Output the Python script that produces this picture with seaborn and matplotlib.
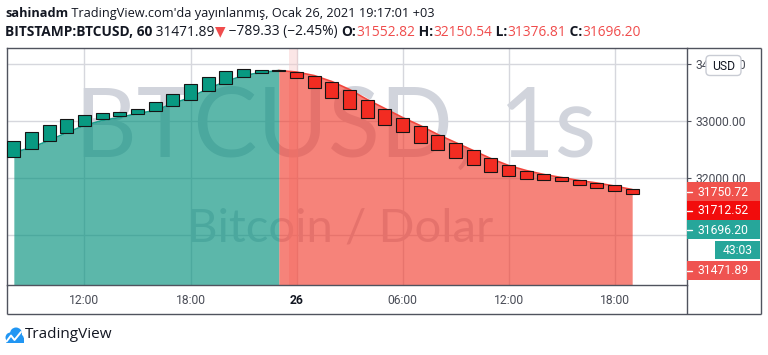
import matplotlib
matplotlib.use("Agg")
import matplotlib.pyplot as plt
import seaborn as sns
import pandas as pd
import numpy as np
from matplotlib.patches import Rectangle, FancyBboxPatch, Circle

# ---------------- data ----------------
hours = list(range(8, 44))  # 08:00 on the 25th .. 19:00 on the 26th (hourly)
opens = [32356, 32504, 32649, 32784, 32912, 33018, 33075, 33123, 33163, 33246,
         33363, 33514, 33644, 33772, 33833, 33872,
         33847, 33789, 33684, 33538, 33363, 33205, 33047, 32912, 32754, 32609,
         32474, 32339, 32211, 32111, 32053, 32005, 31948, 31907, 31860, 31802]
closes = [32649, 32795, 32925, 33030, 33105, 33135, 33146, 33198, 33321, 33468,
          33644, 33772, 33865, 33907, 33895, 33884,
          33742, 33574, 33398, 33205, 33047, 32930, 32795, 32614, 32486, 32346,
          32211, 32093, 32023, 31977, 31960, 31935, 31872, 31820, 31760, 31716]
area_vals = [32439, 32526, 32649, 32789, 32912, 33000, 33053, 33123, 33175, 33298,
             33404, 33561, 33684, 33789, 33842, 33877,
             33851, 33789, 33684, 33544, 33368, 33211, 33053, 32912, 32754, 32614,
             32474, 32333, 32211, 32123, 32053, 32000, 31947, 31904, 31851, 31789]
split_index = 15
xtick_pos = [12, 18, 24, 30, 36, 42]
xtick_labels = ['12:00', '18:00', '26', '06:00', '12:00', '18:00']
ytick_vals = [31000, 32000, 33000, 34000]
ytick_labels = ['', '32000.00', '33000.00', '34000.00']
tag_texts = ['31750.72', '31712.52', '31696.20', '43:03', '31471.89']
tag_colors = ['#f0524c', '#f20c0c', '#26a69a', '#26a69a', '#ef5350']

header1 = [("sahinadm", 'bold', '#131722'),
           (" TradingView.com'da yayınlanmış, Ocak 26, 2021 19:17:01 +03", 'normal', '#131722')]
header2 = [("BITSTAMP:BTCUSD, 60", 'bold', '#131722'),
           (" 31471.89", 'normal', '#131722'),
           ("▼", 'normal', '#f04c4c'),
           (" \u2212789.33 (\u22122.45%) ", 'normal', '#131722'),
           ("O:", 'bold', '#131722'), ("31552.82", 'normal', '#f04c4c'),
           (" H:", 'bold', '#131722'), ("32150.54", 'normal', '#f04c4c'),
           (" L:", 'bold', '#131722'), ("31376.81", 'normal', '#f04c4c'),
           (" C:", 'bold', '#131722'), ("31696.20", 'normal', '#f04c4c')]

# ---------------- style ----------------
sns.set_style("white")
plt.rcParams['font.family'] = ['Open Sans', 'DejaVu Sans']

W, H = 768, 355
fig = plt.figure(figsize=(W / 100, H / 100), dpi=100)


def rect(x0, y0, x1, y1):
    return [x0 / W, 1 - y1 / H, (x1 - x0) / W, (y1 - y0) / H]


ax = fig.add_axes(rect(6.5, 47.5, 686.5, 284.5))
ov = fig.add_axes([0, 0, 1, 1], zorder=10)
ov.set_xlim(0, W)
ov.set_ylim(H, 0)
ov.set_facecolor('none')
ov.axis('off')

TEAL = '#089981'
RED = '#f22c22'
frame_c = '#50535e'

# watermark (behind series)
ax.text(336, 157, 'BTCUSD, 1s', transform=ov.transData, ha='center', va='baseline',
        fontsize=69, color='#d1d4dc', family='Lato', fontweight='normal', zorder=0.6)
ax.text(340, 241, 'Bitcoin / Dolar', transform=ov.transData, ha='center', va='baseline',
        fontsize=34, color='#d1d4dc', family='Lato', fontweight='normal', zorder=0.6)

# pale highlight band
ax.axvspan(23.55, 24.1, color='#f7c9c9', alpha=0.45, lw=0, zorder=0.7)

# area
df = pd.DataFrame({'hour': hours, 'area': area_vals, 'open': opens, 'close': closes})
up = df.iloc[:split_index + 1]
dn = df.iloc[split_index:]
ax.fill_between(up['hour'], up['area'], 29000, color='#008f7b', alpha=0.64, lw=0, zorder=1)
ax.fill_between(dn['hour'], dn['area'], 29000, color='#f23728', alpha=0.62, lw=0, zorder=1)
sns.lineplot(data=up, x='hour', y='area', ax=ax, color='#1a9e8c', lw=1.2, zorder=1.5)
sns.lineplot(data=dn, x='hour', y='area', ax=ax, color='#f2453c', lw=1.2, zorder=1.5)

# candles
col = [TEAL if c >= o else RED for o, c in zip(opens, closes)]
ax.bar(df['hour'], df['close'] - df['open'], bottom=df['open'], width=0.74,
       color=col, edgecolor='#151515', linewidth=0.8, zorder=3)

ax.set_xlim(7.585, 46.075)
ax.set_ylim(30123, 34281)
ax.set_xlabel('')
ax.set_ylabel('')

ax.set_axisbelow(True)
ax.grid(True, color='#d6d7dd', lw=1)
ax.set_xticks(xtick_pos)
ax.set_xticklabels(xtick_labels)
ax.yaxis.tick_right()
ax.set_yticks(ytick_vals)
ax.set_yticklabels(ytick_labels)
ax.tick_params(axis='both', direction='out', length=3, width=0.8, color=frame_c,
               labelcolor='#4a4d57', labelsize=8.7, pad=3.6)
for lab in ax.get_xticklabels() + ax.get_yticklabels():
    lab.set_family('Roboto')
ax.get_xticklabels()[2].set_fontweight('bold')
ax.get_xticklabels()[2].set_color('#131722')
for s in ax.spines.values():
    s.set_visible(True)
    s.set_color(frame_c)
    s.set_linewidth(1)

# outer frame lines (pixel coords in overlay)
for (xa, ya, xb, yb) in [(686.5, 47.5, 760.5, 47.5), (760.5, 47.5, 760.5, 313.5),
                         (6.5, 313.5, 760.5, 313.5), (6.5, 284.5, 6.5, 313.5),
                         (686.5, 284.5, 686.5, 313.5)]:
    ov.plot([xa, xb], [ya, yb], color=frame_c, lw=1, solid_capstyle='butt')

# price tags
tag_boxes = [(687, 182, 760, 201), (687, 201, 760, 220), (687, 220, 760, 239),
             (715, 241, 760, 259), (687, 261, 760, 280)]
for (x0, y0, x1, y1), t, c in zip(tag_boxes, tag_texts, tag_colors):
    ov.add_patch(Rectangle((x0, y0), x1 - x0, y1 - y0, color=c, lw=0))
    if x0 < 700:
        ov.plot([687, 691.5], [(y0 + y1) / 2] * 2, color='white', lw=1)
        ov.text(697, (y0 + y1) / 2 + 0.5, t, color='white', fontsize=8.7, family='Roboto',
                ha='left', va='center')
    else:
        ov.text((x0 + x1) / 2, (y0 + y1) / 2 + 0.5, t, color='white', fontsize=8.7,
                family='Roboto', ha='center', va='center')

# USD badge
ov.add_patch(FancyBboxPatch((706, 55.5), 35, 20, boxstyle='round,pad=0,rounding_size=4',
                            fc='white', ec='#c9ccd4', lw=1))
ov.text(723.5, 66, 'USD', color='#131722', fontsize=8.7, family='Roboto', ha='center', va='center')

# header text runs
fig.canvas.draw()
renderer = fig.canvas.get_renderer()


def runs(x, y, items, size=9.5):
    for s, w, c in items:
        t = ov.text(x, y, s, fontsize=size, fontweight=w, color=c, ha='left', va='center',
                    family=['Open Sans', 'DejaVu Sans'])
        bb = t.get_window_extent(renderer=renderer)
        x += bb.width


runs(5, 13.5, header1, size=9.2)
runs(5, 32, header2, size=9.95)

# logo
logo_c = '#2196f3'
for (cx, cy, r) in [(10.5, 337.5, 5.0), (16, 333.5, 6.0), (19.5, 338.5, 4.3)]:
    ov.add_patch(Circle((cx, cy), r, color=logo_c, lw=0))
ov.add_patch(Rectangle((5.5, 337.5), 18, 5.3, color=logo_c, lw=0))
ov.plot([6.5, 11, 14.5, 21], [341.5, 335.5, 340, 332], color='white', lw=1.4)
ov.text(25, 335, 'TradingView', fontsize=11, color='#131722', ha='left', va='center',
        family='Open Sans')

fig.savefig('out.png', dpi=100)
